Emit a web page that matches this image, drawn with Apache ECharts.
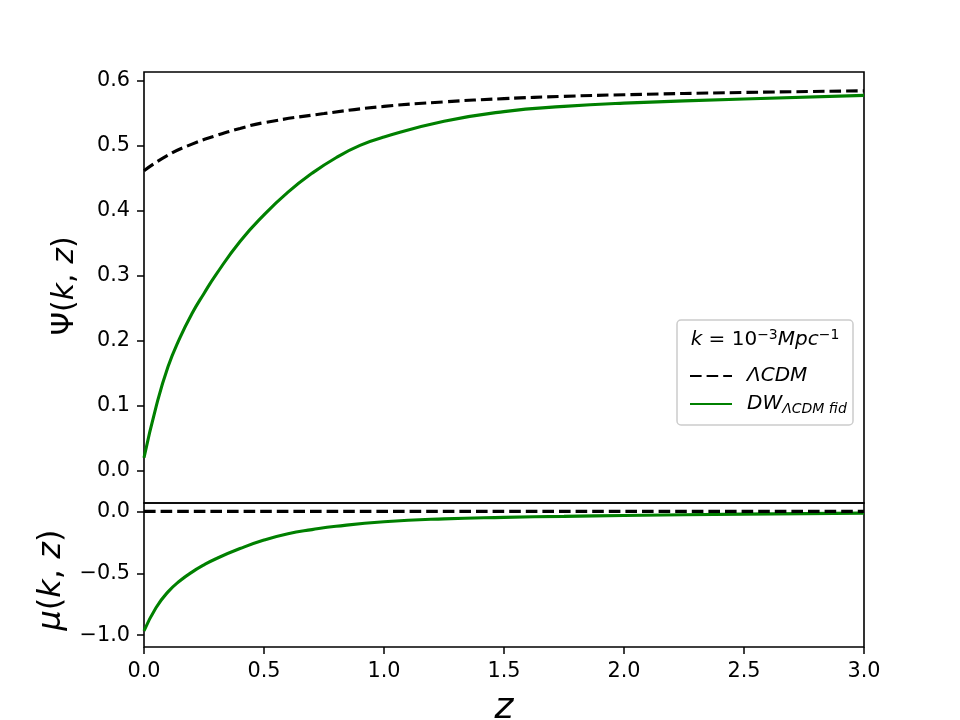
<!DOCTYPE html>
<html>
<head>
<meta charset="utf-8">
<script src="https://cdn.jsdelivr.net/npm/echarts@6/dist/echarts.min.js"></script>
<style>html,body{margin:0;padding:0;background:#fff;}#c{width:960px;height:720px;}</style>
</head>
<body>
<div id="c"></div>
<script>
// ---- data ----
const zLCDM   = [0, 0.1, 0.2, 0.3, 0.4, 0.5, 0.75, 1.0, 1.25, 1.5, 1.75, 2.0, 2.5, 3.0];
const psiLCDM = [0.462, 0.486, 0.503, 0.516, 0.527, 0.536, 0.550, 0.561, 0.568, 0.573, 0.5765, 0.579, 0.5825, 0.585];

const zDW   = [0, 0.05, 0.1, 0.15, 0.2, 0.25, 0.3, 0.4, 0.5, 0.6, 0.7, 0.8, 0.9, 1.0, 1.25, 1.5, 1.75, 2.0, 2.5, 3.0];
const psiDW = [0.020, 0.098, 0.160, 0.205, 0.242, 0.273, 0.302, 0.353, 0.394, 0.429, 0.458, 0.482, 0.501, 0.514, 0.538, 0.553, 0.561, 0.566, 0.5725, 0.578];

const zMu     = [0, 0.5, 1.0, 1.5, 2.0, 2.5, 3.0];
const muLCDM  = [0, 0, 0, 0, 0, 0, 0];

const zMuDW = [0, 0.05, 0.1, 0.15, 0.2, 0.25, 0.3, 0.4, 0.5, 0.6, 0.7, 0.8, 1.0, 1.25, 1.5, 1.75, 2.0, 2.5, 3.0];
const muDW  = [-0.965, -0.778, -0.650, -0.560, -0.490, -0.432, -0.382, -0.300, -0.231, -0.180, -0.147, -0.120, -0.084, -0.060, -0.048, -0.040, -0.033, -0.022, -0.014];

const xTicks    = [0, 0.5, 1.0, 1.5, 2.0, 2.5, 3.0];
const psiTicks  = [0, 0.1, 0.2, 0.3, 0.4, 0.5, 0.6];
const muTicks   = [-1.0, -0.5, 0.0];

const nameLCDM = 'ΛCDM';
const nameDW = 'DW';

// ---- build ----
const pairs = (xs, ys) => xs.map((x, i) => [x, ys[i]]);
const FONT = 'DejaVu Sans';
const fmt = v => v.toFixed(1).replace('-', '\u2212');

const dashStyle = { color: '#000', width: 3.1, type: [11.6, 5] };
const greenStyle = { color: '#008000', width: 3.1, type: 'solid' };

const tick = { show: true, inside: false, length: 7, lineStyle: { color: '#000', width: 1.5 } };
const lab = { color: '#000', fontFamily: FONT, fontSize: 20.8, margin: 14 };
const noLine = { show: false, onZero: false };

const option = {
  animation: false,
  backgroundColor: '#fff',
  grid: [
    { left: 144, top: 72, width: 720, height: 431, show: true, borderColor: '#000', borderWidth: 1.6, backgroundColor: 'transparent' },
    { left: 144, top: 503, width: 720, height: 144, show: true, borderColor: '#000', borderWidth: 1.6, backgroundColor: 'transparent' }
  ],
  xAxis: [
    { type: 'value', gridIndex: 0, min: 0, max: 3, interval: 0.5,
      axisLine: noLine, axisTick: { show: false }, axisLabel: { show: false }, splitLine: { show: false } },
    { type: 'value', gridIndex: 1, min: 0, max: 3, interval: 0.5, position: 'bottom',
      axisLine: noLine, axisTick: Object.assign({}, tick, { customValues: xTicks }), splitLine: { show: false },
      axisLabel: Object.assign({}, lab, { customValues: xTicks, formatter: v => fmt(v) }) }
  ],
  yAxis: [
    { type: 'value', gridIndex: 0, min: -0.0497, max: 0.614,
      axisLine: noLine, splitLine: { show: false },
      axisTick: Object.assign({}, tick, { customValues: psiTicks }),
      axisLabel: Object.assign({}, lab, { customValues: psiTicks, formatter: v => fmt(v) }) },
    { type: 'value', gridIndex: 1, min: -1.095, max: 0.068,
      axisLine: noLine, splitLine: { show: false },
      axisTick: Object.assign({}, tick, { customValues: muTicks }),
      axisLabel: Object.assign({}, lab, { customValues: muTicks, formatter: v => fmt(v) }) }
  ],
  legend: {
    z: 10,
    orient: 'vertical',
    left: 684, top: 361,
    itemWidth: 42, itemHeight: 20, itemGap: 8,
    itemStyle: { opacity: 0 },
    data: [nameLCDM, nameDW],
    formatter: name => name === nameLCDM ? '{it|ΛCDM}' : '{it|DW}{sub|ΛCDM fid}',
    textStyle: {
      color: '#000', fontFamily: FONT, fontSize: 20, padding: [0, 0, 0, 10],
      rich: {
        it: { fontStyle: 'italic', fontFamily: FONT, fontSize: 20, color: '#000' },
        sub: { fontStyle: 'italic', fontFamily: FONT, fontSize: 14, color: '#000', padding: [10, 0, 0, 0] }
      }
    }
  },
  graphic: [
    { type: 'rect', z: 1, shape: { x: 677, y: 320, width: 176, height: 105, r: 4 },
      style: { fill: 'rgba(255,255,255,0.8)', stroke: '#cccccc', lineWidth: 1.5 } },
    { type: 'text', z: 2, x: 765, y: 340,
      style: { text: '{it|k} = 10{sup|\u22123}{it|Mpc}{sup|\u22121}', align: 'center', verticalAlign: 'middle',
        fontFamily: FONT, fontSize: 20, fill: '#000',
        rich: {
          it: { fontStyle: 'italic', fontFamily: FONT, fontSize: 20, fill: '#000' },
          sup: { fontFamily: FONT, fontSize: 14, fill: '#000', padding: [0, 0, 10, 0] }
        } } },
    { type: 'text', x: 65, y: 286, rotation: Math.PI / 2,
      style: { text: 'Ψ({i|k}, {i|z})', align: 'center', verticalAlign: 'middle', fontFamily: FONT, fontSize: 30, fill: '#000',
        rich: { i: { fontStyle: 'italic', fontFamily: FONT, fontSize: 30, fill: '#000' } } } },
    { type: 'text', x: 52, y: 580, rotation: Math.PI / 2,
      style: { text: '{i|μ}({i|k}, {i|z})', align: 'center', verticalAlign: 'middle', fontFamily: FONT, fontSize: 32, fill: '#000',
        rich: { i: { fontStyle: 'italic', fontFamily: FONT, fontSize: 32, fill: '#000' } } } },
    { type: 'text', x: 504, y: 709,
      style: { text: 'z', align: 'center', verticalAlign: 'middle', fontFamily: FONT, fontStyle: 'italic', fontSize: 36, fill: '#000' } }
  ],
  series: [
    { name: nameLCDM, type: 'line', xAxisIndex: 0, yAxisIndex: 0, data: pairs(zLCDM, psiLCDM),
      symbol: 'none', smooth: 0.5, lineStyle: dashStyle, itemStyle: { color: '#000' }, z: 3 },
    { name: nameDW, type: 'line', xAxisIndex: 0, yAxisIndex: 0, data: pairs(zDW, psiDW),
      symbol: 'none', smooth: 0.5, lineStyle: greenStyle, itemStyle: { color: '#008000' }, z: 3 },
    { name: nameLCDM, type: 'line', xAxisIndex: 1, yAxisIndex: 1, data: pairs(zMu, muLCDM),
      symbol: 'none', lineStyle: dashStyle, itemStyle: { color: '#000' }, z: 4 },
    { name: nameDW, type: 'line', xAxisIndex: 1, yAxisIndex: 1, data: pairs(zMuDW, muDW),
      symbol: 'none', smooth: 0.5, lineStyle: greenStyle, itemStyle: { color: '#008000' }, z: 3 }
  ]
};

const chart = echarts.init(document.getElementById('c'), null, { renderer: 'canvas' });
chart.setOption(option);
</script>
</body>
</html>
